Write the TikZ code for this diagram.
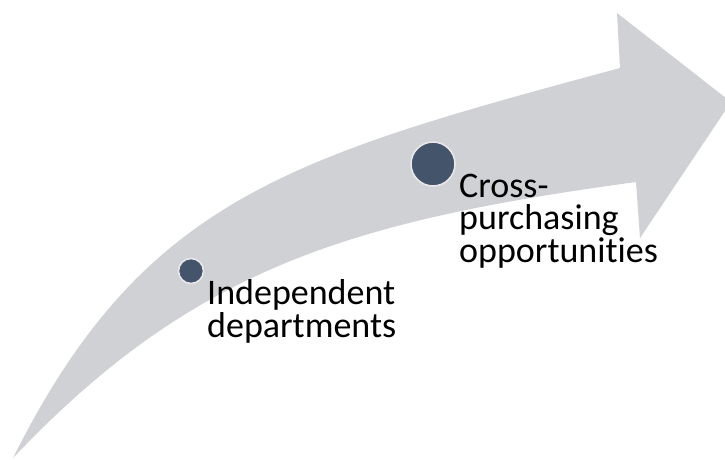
\documentclass[tikz,border=0pt]{standalone}
\usepackage{fontspec}
\setmainfont{Carlito}[Ligatures=NoCommon]
\definecolor{arrowgray}{RGB}{208,209,213}
\definecolor{dotblue}{RGB}{68,84,106}
\definecolor{dotring}{RGB}{232,232,234}
\begin{document}
\begin{tikzpicture}[x=1pt,y=-1pt,
  dot/.style={circle,fill=dotblue,draw=dotring,line width=1.6pt,inner sep=0pt},
  lbl/.style={anchor=base west,inner sep=0pt,align=left,font=\fontsize{36}{32.5}\selectfont,text=black}]
\useasboundingbox (0,0) rectangle (725,459);
\clip (0,0) rectangle (725,459);
% curved arrow
\fill[arrowgray] (13,458) .. controls (143,198) and (290,157) .. (620,68)
  -- (617,13) -- (731,102) -- (640,238) -- (636,182)
  .. controls (350,221) and (193,268) .. (13,458) -- cycle;
% dots
\node[dot,minimum size=25pt] (d1) at (191,271) {};
\node[dot,minimum size=44pt] (d2) at (433,164) {};
% labels (anchored at the baseline of the last line)
\node[lbl] (t1) at (207,337) {Independent\\departments};
\node[lbl] (t2) at (459,262) {Cross-\\purchasing\\opportunities};
\end{tikzpicture}
\end{document}
